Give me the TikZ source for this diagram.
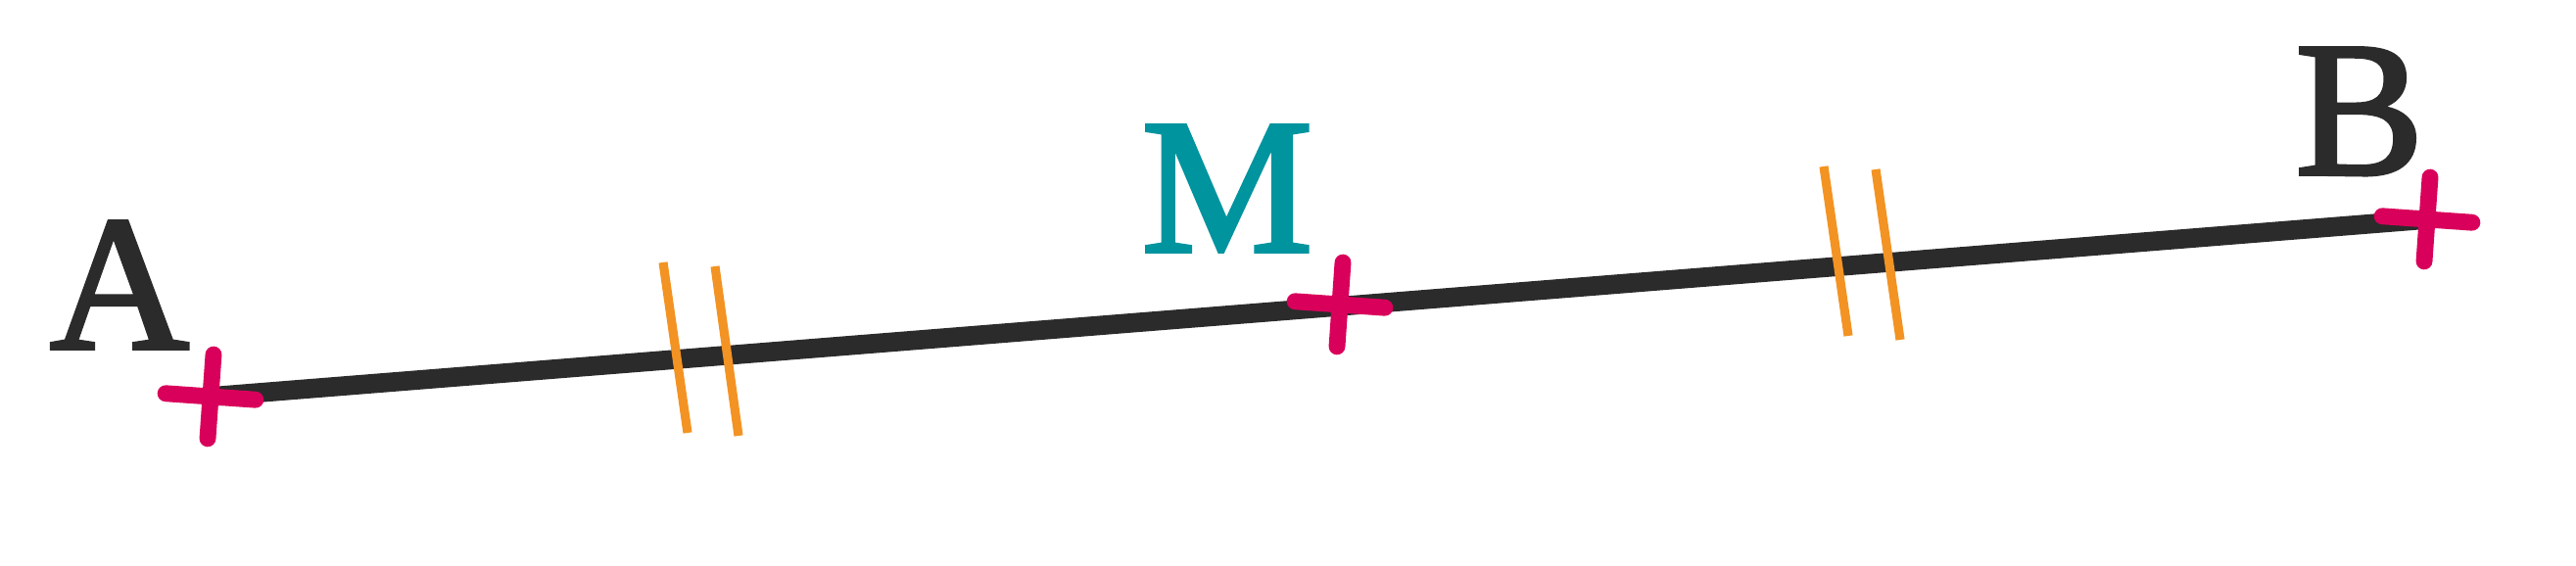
\documentclass[tikz,border=0pt]{standalone}
\usepackage{fontspec}
\setmainfont{Liberation Serif}
\newfontfamily\pointfont{Liberation Serif}[FakeBold=2]
\definecolor{segdark}{HTML}{2B2B2B}
\definecolor{crossred}{HTML}{D9005B}
\definecolor{tickorange}{HTML}{F39323}
\definecolor{midteal}{HTML}{00949F}

\begin{document}
\begin{tikzpicture}[
    crossmark/.style={draw=crossred, line width=4.8pt, line cap=round},
    tickmark/.style={draw=tickorange, line width=2.6pt},
    letter/.style={font=\pointfont\fontsize{56}{60}\selectfont, anchor=base, inner sep=0pt}
]
    \useasboundingbox (0,0) rectangle (26.30,5.78);

    % Points
    \coordinate (A) at (2.15,1.73);
    \coordinate (B) at (24.78,3.54);
    \coordinate (M) at (13.68,2.67);

    % Segment
    \draw[segdark, line width=5.6pt] (A) -- (B);

    % Equal halves
    \draw[tickmark] (6.77,3.10) -- (7.02,1.36);
    \draw[tickmark] (7.30,3.06) -- (7.54,1.33);
    \draw[tickmark] (18.62,4.08) -- (18.87,2.35);
    \draw[tickmark] (19.15,4.05) -- (19.40,2.31);

    % Crosses
    \draw[crossmark, shift={(A)}, rotate=-4] (-0.46,0) -- (0.46,0) (0,-0.43) -- (0,0.43);
    \draw[crossmark, shift={(M)}, rotate=-4] (-0.46,0) -- (0.46,0) (0,-0.43) -- (0,0.43);
    \draw[crossmark, shift={(B)}, rotate=-4] (-0.46,0) -- (0.46,0) (0,-0.43) -- (0,0.43);

    % Labels
    \node[letter, text=segdark] (labA) at (1.22,2.22) {A};
    \node[letter, text=midteal] (labM) at (12.53,3.21) {M};
    \node[letter, text=segdark] (labB) at (24.09,4.00) {B};

\end{tikzpicture}
\end{document}
